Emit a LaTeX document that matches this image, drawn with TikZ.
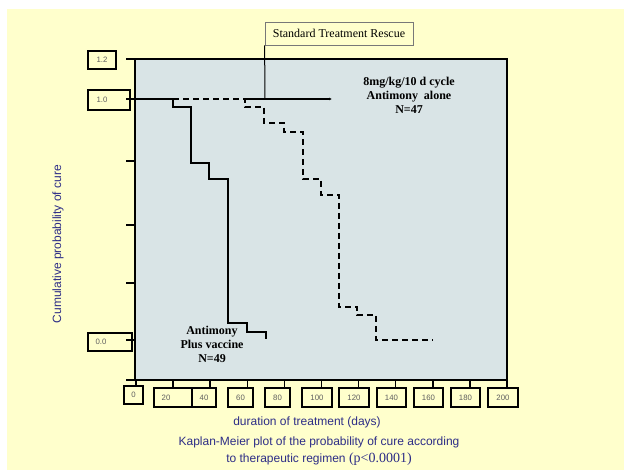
\documentclass[tikz,border=0pt]{standalone}
\usepackage{fontspec}
\setmainfont{Liberation Serif}
\setsansfont{Liberation Sans}
\usetikzlibrary{arrows.meta}
\definecolor{paper}{RGB}{255,255,204}
\definecolor{plotbg}{RGB}{217,228,230}
\definecolor{capblue}{RGB}{45,45,135}
\definecolor{lblgray}{RGB}{95,95,95}
\definecolor{boxgray}{RGB}{120,120,120}

\begin{document}
\begin{tikzpicture}[x=1pt,y=-1pt,
    tickbox/.style={draw,line width=1.5pt},
    ticklbl/.style={font=\sffamily\fontsize{7.8}{9}\selectfont,text=lblgray,inner sep=0pt},
    curve/.style={line width=1.6pt},
    grouplbl/.style={font=\bfseries\fontsize{12}{14}\selectfont,align=center},
    axislbl/.style={font=\sffamily\fontsize{12}{13}\selectfont,text=capblue,align=center}]
    \useasboundingbox (0,0) rectangle (624,470);
    \fill[white] (0,0) rectangle (624,470);
    \fill[paper] (7,9) rectangle (624,470);

    % plot area and axes
    \filldraw[fill=plotbg,line width=1.6pt] (135,59) rectangle (507,380);
    \draw[line width=1.6pt] (126,380) -- (507,380);
    \foreach \y in {59,99,161,225,283,340}
        \draw[line width=1.5pt] (126,\y) -- (135,\y);

    % y labels
    \draw[tickbox] (88,51) rectangle (116,69);
    \draw[tickbox] (88,90) rectangle (130,110);
    \draw[tickbox] (88,333) rectangle (132,351);
    \node[ticklbl] (y12) at (102,60) {1.2};
    \node[ticklbl] (y10) at (102,100) {1.0};
    \node[ticklbl] (y00) at (101,342) {0.0};

    % x ticks and labels
    \draw[line width=1.5pt] (136,380) -- (136,386);
    \draw[tickbox] (124,386) rectangle (143,404);
    \node[ticklbl] (x0) at (133.5,395) {0};
    \foreach \t/\l/\r/\c [count=\i] in {20/154/192/166,40/192/216/204,60/228/253/240.5,
        80/265/290/277.5,100/302/332/317,120/339/369/354,140/377/406/391.5,
        160/414/443/428.5,180/451/480/465.5,200/488/518/503} {
        \draw[line width=1.5pt] ({136+37.1*\i},380) -- ({136+37.1*\i},388);
        \draw[tickbox] (\l,388) rectangle (\r,407);
        \node[ticklbl] (x\t) at (\c,397.5) {\t};
    }

    % Kaplan-Meier curves
    \draw[curve] (127,99) -| (173,107) -| (191,163) -| (209,179) -| (228,323)
        -| (247,332) -| (266,339);
    \draw[curve,dash pattern=on 6pt off 4pt] (173,99) -| (245,107) -| (264,123)
        -| (284,132) -| (303,179) -| (321,195) -| (339,307) -| (357,315)
        -| (376,340) -- (433,340);

    % rescue marker
    \node[draw=boxgray,line width=0.8pt,minimum width=148pt,minimum height=23pt,
        font=\fontsize{12}{13}\selectfont] (rescue) at (339,33.5)
        {Standard Treatment Rescue};
    \coordinate (hit) at (265,99);
    \draw[line width=1pt] (rescue.south west) -- (hit);
    \draw[line width=1.3pt,-{Latex[length=3pt,width=3pt]}] (245,99) -- (332,99);

    \node[grouplbl] (alone) at (409,95) {8mg/kg/10 d cycle\\Antimony\ \ alone\\N=47};
    \node[grouplbl] (vacc) at (212,344) {Antimony\\Plus vaccine\\N=49};

    \node[axislbl,rotate=90] (ylab) at (58,244) {Cumulative probability of cure};
    \node[axislbl] (xlab) at (307,422) {duration of treatment (days)};
    \node[axislbl,font=\sffamily\fontsize{12}{17}\selectfont] (cap) at (319,451)
        {Kaplan-Meier plot of the probability of cure according\\
         to therapeutic regimen {\rmfamily\fontsize{14}{17}\selectfont(p<0.0001)}};
\end{tikzpicture}
\end{document}
